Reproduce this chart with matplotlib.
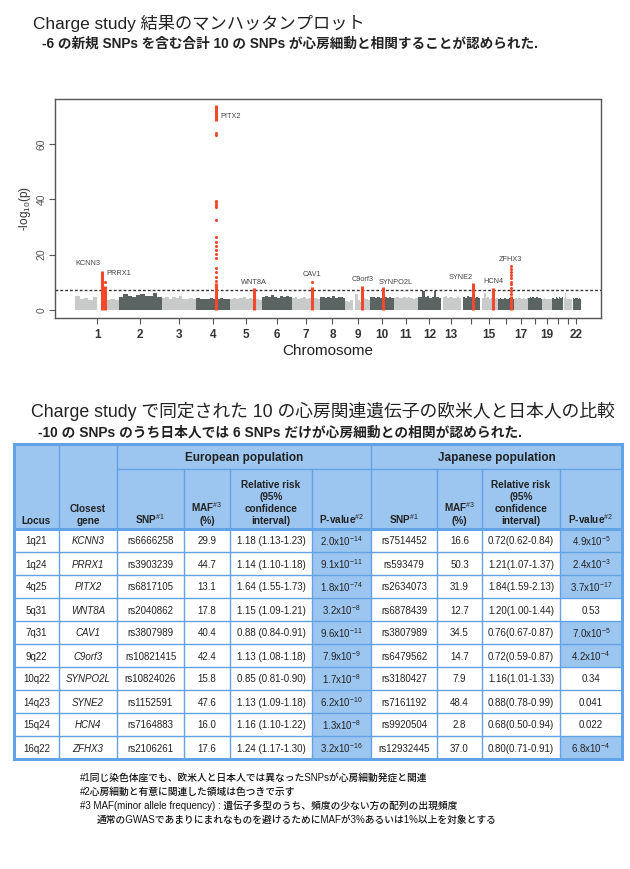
import numpy as np
import matplotlib
matplotlib.use('Agg')
import matplotlib.pyplot as plt
from matplotlib.patches import Rectangle

plt.rcParams['font.family'] = ['Liberation Sans', 'Noto Sans CJK JP']
plt.rcParams['mathtext.fontset'] = 'custom'
plt.rcParams['mathtext.rm'] = 'Liberation Sans'
plt.rcParams['mathtext.it'] = 'Liberation Sans:italic'
plt.rcParams['mathtext.bf'] = 'Liberation Sans:bold'

# ---- manhattan data ----
chrom_len = [249.3, 243.2, 198.0, 191.2, 180.9, 171.1, 159.1, 146.4, 141.2, 135.5, 135.0,
             133.9, 115.2, 107.3, 102.5, 90.4, 81.2, 78.1, 59.1, 63.0, 48.1, 51.3]
chrom_tick_labels = ['1', '2', '3', '4', '5', '6', '7', '8', '9', '10', '11', '12', '13',
                     '', '15', '', '17', '', '19', '', '', '22']

# rough upper envelope of the -log10(p) cloud, 10 bins per chromosome
bg_tops = [
    [5.2, 3.8, 4.2, 3.6, 4.5, 0.0, 4.0, 3.7, 4.1, 3.6],
    [4.8, 5.6, 5.0, 4.6, 5.3, 5.8, 4.9, 5.2, 6.0, 4.7],
    [4.2, 4.8, 3.9, 4.5, 4.3, 5.0, 4.1, 3.8, 4.4, 4.0],
    [4.3, 4.0, 3.9, 4.1, 4.2, 4.0, 3.8, 4.4, 4.1, 3.9],
    [4.0, 4.4, 3.8, 4.2, 4.6, 3.9, 4.3, 4.0, 4.1, 3.7],
    [4.5, 5.0, 4.6, 5.4, 4.8, 4.4, 5.1, 4.7, 5.2, 4.5],
    [4.2, 4.5, 4.0, 4.3, 4.6, 4.1, 4.4, 3.9, 4.2, 4.0],
    [4.5, 4.8, 4.2, 4.6, 4.4, 4.9, 4.3, 4.7, 4.5, 4.2],
    [3.2, 3.0, 3.4, 0.0, 5.8, 3.5, 3.0, 4.2, 3.8, 3.6],
    [4.5, 4.8, 4.3, 4.6, 4.4, 7.5, 4.7, 4.2, 4.5, 4.3],
    [4.3, 4.6, 4.4, 4.2, 4.5, 4.3, 4.7, 4.4, 4.1, 4.3],
    [4.5, 4.8, 7.0, 4.6, 4.9, 4.4, 4.7, 7.0, 4.6, 4.4],
    [0.0, 4.6, 5.2, 4.3, 4.7, 4.5, 4.4, 4.2, 4.6, 4.3],
    [0.0, 4.8, 4.4, 5.0, 4.5, 4.7, 4.9, 4.3, 4.8, 4.4],
    [0.0, 4.3, 6.0, 4.2, 4.5, 4.1, 4.3, 4.4, 4.0, 4.2],
    [4.0, 4.2, 3.9, 4.1, 4.3, 4.0, 3.8, 4.2, 3.9, 4.1],
    [4.0, 4.3, 4.1, 4.4, 4.2, 4.0, 4.3, 4.1, 4.0, 4.2],
    [4.2, 4.5, 4.3, 4.6, 4.4, 4.2, 4.5, 4.3, 4.4, 4.1],
    [3.8, 4.0, 4.2, 3.9, 4.1, 4.0, 3.8, 4.1, 3.9, 4.0],
    [4.2, 4.4, 4.0, 4.5, 4.3, 4.1, 4.6, 4.2, 4.4, 4.8],
    [0.0, 4.2, 6.0, 4.0, 3.9, 4.1, 3.8, 4.0, 3.9, 4.1],
    [0.0, 4.3, 4.5, 4.1, 4.4, 4.2, 4.3, 4.0, 4.2, 4.1],
]

hit_genes = ['KCNN3', 'PRRX1', 'PITX2', 'WNT8A', 'CAV1', 'C9orf3', 'SYNPO2L', 'SYNE2', 'HCN4', 'ZFHX3']
hit_chrom = [1, 1, 4, 5, 7, 9, 10, 14, 15, 16]
hit_pos_mb = [154.8, 170.6, 111.7, 137.4, 116.2, 97.7, 75.4, 64.7, 73.6, 73.0]
hit_segments = [[(0, 14.2)], [(0, 8.5)], [(0, 9.9), (68.5, 74.2)], [(0, 8.0)], [(0, 8.3)],
                [(0, 8.7)], [(0, 8.2)], [(0, 9.6)], [(0, 8.1)], [(0, 5.0)]]
hit_dots = [[], [10.2],
            [10.5, 11.9, 13.6, 15.3, 18.7, 20.4, 21.7, 23.1, 24.7, 26.3, 32.6,
             37.2, 37.8, 38.4, 39.0, 39.6, 63.4, 64.2],
            [], [10.0], [], [], [], [],
            [5.8, 7.0, 8.1, 9.3, 10.2, 11.5, 12.6, 13.8, 14.9, 16.0]]
gw_threshold = -np.log10(5e-8)

# label placement (offset along genome in Mb, height, alignment)
label_dx = [-81, 8, 25, 0, 0, 0, 70, -69, 0, 0]
label_y = [16.7, 13.1, 70.2, 9.8, 12.7, 10.9, 9.8, 11.6, 10.2, 18.2]
label_ha = ['center', 'left', 'left', 'center', 'center', 'center', 'center', 'center', 'center', 'center']

# ---- table data ----
locus = ['1q21', '1q24', '4q25', '5q31', '7q31', '9q22', '10q22', '14q23', '15q24', '16q22']
genes = ['KCNN3', 'PRRX1', 'PITX2', 'WNT8A', 'CAV1', 'C9orf3', 'SYNPO2L', 'SYNE2', 'HCN4', 'ZFHX3']
eu_snp = ['rs6666258', 'rs3903239', 'rs6817105', 'rs2040862', 'rs3807989', 'rs10821415',
          'rs10824026', 'rs1152591', 'rs7164883', 'rs2106261']
eu_maf = ['29.9', '44.7', '13.1', '17.8', '40.4', '42.4', '15.8', '47.6', '16.0', '17.6']
eu_rr = ['1.18 (1.13-1.23)', '1.14 (1.10-1.18)', '1.64 (1.55-1.73)', '1.15 (1.09-1.21)',
         '0.88 (0.84-0.91)', '1.13 (1.08-1.18)', '0.85 (0.81-0.90)', '1.13 (1.09-1.18)',
         '1.16 (1.10-1.22)', '1.24 (1.17-1.30)']
eu_p = [2.0e-14, 9.1e-11, 1.8e-74, 3.2e-8, 9.6e-11, 7.9e-9, 1.7e-8, 6.2e-10, 1.3e-8, 3.2e-16]
jp_snp = ['rs7514452', 'rs593479', 'rs2634073', 'rs6878439', 'rs3807989', 'rs6479562',
          'rs3180427', 'rs7161192', 'rs9920504', 'rs12932445']
jp_maf = ['16.6', '50.3', '31.9', '12.7', '34.5', '14.7', '7.9', '48.4', '2.8', '37.0']
jp_rr = ['0.72(0.62-0.84)', '1.21(1.07-1.37)', '1.84(1.59-2.13)', '1.20(1.00-1.44)',
         '0.76(0.67-0.87)', '0.72(0.59-0.87)', '1.16(1.01-1.33)', '0.88(0.78-0.99)',
         '0.68(0.50-0.94)', '0.80(0.71-0.91)']
jp_p = [4.9e-5, 2.4e-3, 3.7e-17, 0.53, 7.0e-5, 4.2e-4, 0.34, 0.041, 0.022, 6.8e-4]
sig_level = 0.05 / len(locus)

footnotes = [
    '#1同じ染色体座でも、欧米人と日本人では異なったSNPsが心房細動発症と関連',
    '#2心房細動と有意に関連した領域は色つきで示す',
    '#3 MAF(minor allele frequency) : 遺伝子多型のうち、頻度の少ない方の配列の出現頻度',
    '通常のGWASであまりにまれなものを避けるためにMAFが3%あるいは1%以上を対象とする',
]

LIGHT = '#c9caca'
DARK = '#5b6363'
RED = '#f2482c'
BLUE = '#9cc6ef'
LINE = '#62a2e6'


def fmt_p(p):
    if p >= 0.01:
        return f'{p:g}'
    m, e = f'{p:.1e}'.split('e')
    return f'{m}x10$^{{{int(e)}}}$'


fig = plt.figure(figsize=(6.3, 8.69), dpi=100)

# overlay in pixel coordinates for titles and the table
ov = fig.add_axes([0, 0, 1, 1])
ov.set_xlim(0, 630)
ov.set_ylim(869, 0)
ov.axis('off')

ov.text(33, 23, 'Charge study 結果のマンハッタンプロット', fontsize=12.4, color='#222', va='center')
ov.text(42, 44, '-6 の新規 SNPs を含む合計 10 の SNPs が心房細動と相関することが認められた.',
        fontsize=9.8, fontweight='bold', color='#222', va='center')
ov.text(31, 411, 'Charge study で同定された 10 の心房関連遺伝子の欧米人と日本人の比較',
        fontsize=12.8, color='#222', va='center')
ov.text(38, 433, '-10 の SNPs のうち日本人では 6 SNPs だけが心房細動との相関が認められた.',
        fontsize=9.9, fontweight='bold', color='#222', va='center')

# ---- manhattan plot ----
ax = fig.add_axes([55 / 630, (869 - 318) / 869, 546 / 630, 219 / 869])
offsets = np.concatenate([[0], np.cumsum(chrom_len)[:-1]])
centers = offsets + np.array(chrom_len) / 2

for i, (start, length, tops) in enumerate(zip(offsets, chrom_len, bg_tops)):
    n = len(tops)
    w = length / n
    xs = start + (np.arange(n) + 0.5) * w
    ax.bar(xs, tops, width=w, color=LIGHT if i % 2 == 0 else DARK, linewidth=0, zorder=1)

for i, gene in enumerate(hit_genes):
    x = offsets[hit_chrom[i] - 1] + hit_pos_mb[i]
    for lo, hi in hit_segments[i]:
        ax.vlines(x, lo, hi, color=RED, lw=2.2, zorder=3)
    if hit_dots[i]:
        ax.scatter([x] * len(hit_dots[i]), hit_dots[i], s=5, color=RED, linewidths=0, zorder=3)
    ax.text(x + label_dx[i], label_y[i], gene, fontsize=5.3, color='#444',
            ha=label_ha[i], va='center', zorder=4)

ax.axhline(gw_threshold, color='#333', lw=1, ls=(0, (2, 1.5)), zorder=2)

total = sum(chrom_len)
ax.set_xlim(-0.04 * total, total * 1.04)
ax.set_ylim(-2.94, 76.4)
ax.set_xticks(centers)
ax.set_xticklabels(chrom_tick_labels, fontsize=8.5, fontweight='bold', color='#333')
ax.set_yticks([0, 20, 40, 60])
ax.set_yticklabels(['0', '20', '40', '60'], rotation=90, va='center', fontsize=7.5, color='#555')
ax.tick_params(direction='out', length=4, color='#555', width=0.8)
ax.tick_params(axis='x', pad=4)
ax.tick_params(axis='y', pad=2)
ax.set_xlabel('Chromosome', fontsize=11, color='#222', labelpad=2)
ax.set_ylabel('-log$_{10}$(p)', fontsize=8.5, color='#333', labelpad=3)
for sp in ax.spines.values():
    sp.set_color('#555')
    sp.set_linewidth(1)

# ---- table ----
col_x = [14, 59, 117, 184, 230, 312, 371, 437, 482, 560, 622]
top, mid, head_bot, row_h = 444, 469, 529, 23

# header cells
ov.add_patch(Rectangle((col_x[0], top), col_x[-1] - col_x[0], head_bot - top,
                       facecolor=BLUE, edgecolor='none', zorder=1))
ov.text((col_x[2] + col_x[6]) / 2, (top + mid) / 2 + 1, 'European population',
        fontsize=8.5, fontweight='bold', color='#222', ha='center', va='center')
ov.text((col_x[6] + col_x[10]) / 2, (top + mid) / 2 + 1, 'Japanese population',
        fontsize=8.5, fontweight='bold', color='#222', ha='center', va='center')
sub_heads = ['Locus', 'Closest\ngene', 'SNP$^{\\#1}$', 'MAF$^{\\#3}$\n(%)',
             'Relative risk\n(95%\nconfidence\ninterval)', 'P-value$^{\\#2}$',
             'SNP$^{\\#1}$', 'MAF$^{\\#3}$\n(%)',
             'Relative risk\n(95%\nconfidence\ninterval)', 'P-value$^{\\#2}$']
for j, h in enumerate(sub_heads):
    ov.text((col_x[j] + col_x[j + 1]) / 2, head_bot - 3, h, fontsize=7.2, fontweight='bold',
            color='#222', ha='center', va='bottom', linespacing=1.25)

# body cells
rows = list(zip(locus, genes, eu_snp, eu_maf, eu_rr, eu_p, jp_snp, jp_maf, jp_rr, jp_p))
for r, row in enumerate(rows):
    y0 = head_bot + r * row_h
    for j in range(10):
        blue = j == 5 or (j == 9 and row[9] < sig_level)
        ov.add_patch(Rectangle((col_x[j], y0), col_x[j + 1] - col_x[j], row_h,
                               facecolor=BLUE if blue else 'white', edgecolor='none', zorder=1))
        val = row[j]
        txt = fmt_p(val) if j in (5, 9) else val
        ov.text((col_x[j] + col_x[j + 1]) / 2, y0 + row_h / 2 + 1, txt, fontsize=7,
                color='#222', ha='center', va='center',
                style='italic' if j == 1 else 'normal')

bottom = head_bot + len(rows) * row_h
# grid lines
for j, x in enumerate(col_x):
    if j in (0, 10):
        ov.plot([x, x], [top, bottom], color=LINE, lw=2.2, zorder=2)
    elif j in (1, 2, 6):
        ov.plot([x, x], [top, bottom], color=LINE, lw=1, zorder=2)
    else:
        ov.plot([x, x], [mid, bottom], color=LINE, lw=1, zorder=2)
ov.plot([col_x[2], col_x[-1]], [mid, mid], color=LINE, lw=1, zorder=2)
ov.plot([col_x[0], col_x[-1]], [top, top], color=LINE, lw=2.2, zorder=2)
for r in range(len(rows) + 1):
    y = head_bot + r * row_h
    ov.plot([col_x[0], col_x[-1]], [y, y], color=LINE,
            lw=2.2 if r in (0, len(rows)) else 1, zorder=2)

# footnotes
for k, line in enumerate(footnotes):
    ov.text(80 if k < 3 else 97, 778 + k * 14, line, fontsize=7, fontweight='medium',
            color='#111', va='center')

fig.savefig('out.png', dpi=100)
